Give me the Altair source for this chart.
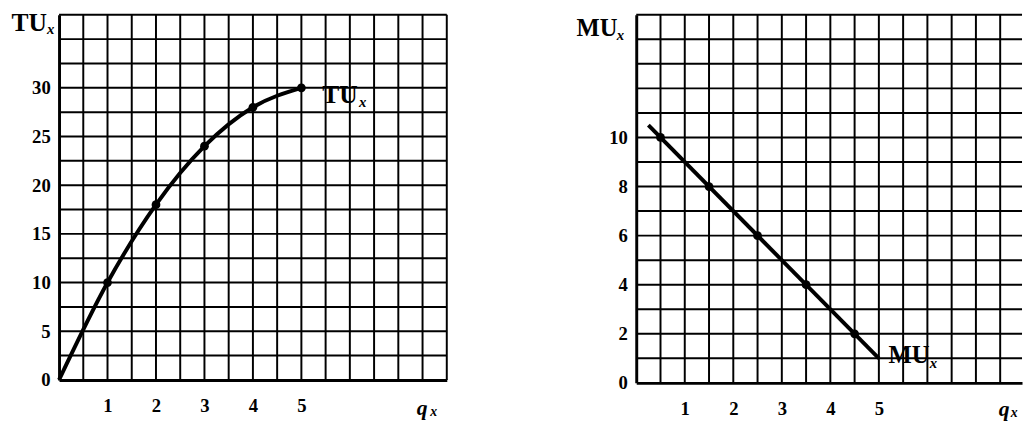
import altair as alt
import pandas as pd

# ---- data ----
tu_q = [0, 1, 2, 3, 4, 5]
tu_vals = [0, 10, 18, 24, 28, 30]
tu_dot_q = [1, 2, 3, 4, 5]
tu_dot_vals = [10, 18, 24, 28, 30]

mu_line_q = [0.25, 5]
mu_line_vals = [10.5, 1]
mu_dot_q = [0.5, 1.5, 2.5, 3.5, 4.5]
mu_dot_vals = [10, 8, 6, 4, 2]

x_labels = [1, 2, 3, 4, 5]
tu_y_labels = [0, 5, 10, 15, 20, 25, 30]
mu_y_labels = [0, 2, 4, 6, 8, 10]
x_grid_l = [0.5, 1, 1.5, 2, 2.5, 3, 3.5, 4, 4.5, 5, 5.5, 6, 6.5, 7, 7.5, 8]
x_grid_r = [0.5, 1, 1.5, 2, 2.5, 3, 3.5, 4, 4.5, 5, 5.5, 6, 6.5, 7, 7.5]
tu_y_grid = [2.5, 5, 7.5, 10, 12.5, 15, 17.5, 20, 22.5, 25, 27.5, 30, 32.5, 35, 37.5]
mu_y_grid = [1, 2, 3, 4, 5, 6, 7, 8, 9, 10, 11, 12, 13, 14, 15]

FONT = "Liberation Serif"


def axis_x(labels, pad):
    return alt.Axis(values=labels, title=None, grid=False,
                    domain=True, domainColor="black", domainWidth=3,
                    ticks=False, labelPadding=pad, labelFont=FONT,
                    labelFontWeight="bold", labelFontSize=19, labelColor="black")


def axis_y(labels):
    return alt.Axis(values=labels, title=None, grid=False,
                    domain=True, domainColor="black", domainWidth=3,
                    ticks=False, labelPadding=9, labelFont=FONT,
                    labelFontWeight="bold", labelFontSize=19, labelColor="black")


def texts(df, size, style="normal"):
    return alt.Chart(df).mark_text(font=FONT, fontWeight="bold", fontSize=size,
                                   fontStyle=style, color="black", clip=False,
                                   align="left", baseline="middle")


def panel(xs, ys, xgrid, ygrid, line_df, dot_df, ylabels, xpad, interp,
          main_df, sub_df, q_df, qsub_df, w, h, main_size):
    vgrid = alt.Chart(pd.DataFrame({"g": xgrid})).mark_rule(
        color="black", strokeWidth=2).encode(x=alt.X("g:Q", scale=xs))
    hgrid = alt.Chart(pd.DataFrame({"g": ygrid})).mark_rule(
        color="black", strokeWidth=2).encode(y=alt.Y("g:Q", scale=ys))
    line = alt.Chart(line_df).mark_line(color="black", strokeWidth=4,
                                        interpolate=interp).encode(
        x=alt.X("q:Q", scale=xs, axis=axis_x(x_labels, xpad)),
        y=alt.Y("v:Q", scale=ys, axis=axis_y(ylabels)),
    )
    dots = alt.Chart(dot_df).mark_circle(color="black", size=80, opacity=1).encode(
        x=alt.X("q:Q", scale=xs), y=alt.Y("v:Q", scale=ys))
    enc = dict(x=alt.X("q:Q", scale=xs), y=alt.Y("v:Q", scale=ys), text="t:N")
    t_main = texts(main_df, main_size).encode(**enc)
    t_sub = texts(sub_df, 15, "italic").encode(**enc)
    t_q = texts(q_df, 22, "italic").encode(**enc)
    t_qs = texts(qsub_df, 14, "italic").encode(**enc)
    return alt.layer(vgrid, hgrid, line, dots, t_main, t_sub, t_q, t_qs).properties(
        width=w, height=h)


# ---------- left panel ----------
xs_l = alt.Scale(domain=[0, 8], nice=False, zero=False)
ys_l = alt.Scale(domain=[0, 37.5], nice=False, zero=False)

left = panel(
    xs_l, ys_l, x_grid_l, tu_y_grid,
    pd.DataFrame({"q": tu_q, "v": tu_vals}),
    pd.DataFrame({"q": tu_dot_q, "v": tu_dot_vals}),
    tu_y_labels, 17, "monotone",
    pd.DataFrame({"q": [-0.98, 5.43], "v": [36.6, 29.2], "t": ["TU", "TU"]}),
    pd.DataFrame({"q": [-0.25, 6.19], "v": [36.0, 28.5], "t": ["x", "x"]}),
    pd.DataFrame({"q": [7.38], "v": [-2.9], "t": ["q"]}),
    pd.DataFrame({"q": [7.66], "v": [-3.3], "t": ["x"]}),
    395, 372, 26,
)

# ---------- right panel ----------
xs_r = alt.Scale(domain=[0, 7.95], nice=False, zero=False)
ys_r = alt.Scale(domain=[0, 15], nice=False, zero=False)

right = panel(
    xs_r, ys_r, x_grid_r, mu_y_grid,
    pd.DataFrame({"q": mu_line_q, "v": mu_line_vals}),
    pd.DataFrame({"q": mu_dot_q, "v": mu_dot_vals}),
    mu_y_labels, 17, "linear",
    pd.DataFrame({"q": [-1.23, 5.2], "v": [14.45, 1.12], "t": ["MU", "MU"]}),
    pd.DataFrame({"q": [-0.4, 6.05], "v": [14.18, 0.8], "t": ["x", "x"]}),
    pd.DataFrame({"q": [7.47], "v": [-1.08], "t": ["q"]}),
    pd.DataFrame({"q": [7.72], "v": [-1.22], "t": ["x"]}),
    393, 375, 25,
)

chart = alt.hconcat(left, right, spacing=131).configure_view(
    stroke=None
).properties(padding={"left": 3, "top": -2, "right": 0, "bottom": 0},
             background="white")

chart.save("out.html", embed_options={"renderer": "svg", "actions": False})
